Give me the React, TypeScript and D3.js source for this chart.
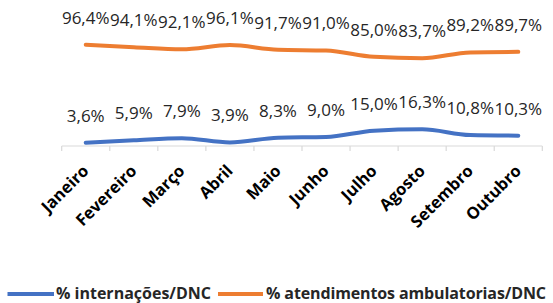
import * as d3 from "d3";

const months = [
  "Janeiro",
  "Fevereiro",
  "Março",
  "Abril",
  "Maio",
  "Junho",
  "Julho",
  "Agosto",
  "Setembro",
  "Outubro",
];
const internacoes = [3.6, 5.9, 7.9, 3.9, 8.3, 9.0, 15.0, 16.3, 10.8, 10.3];
const ambulatorios = [96.4, 94.1, 92.1, 96.1, 91.7, 91.0, 85.0, 83.7, 89.2, 89.7];

const seriesNames = ["% internações/DNC", "% atendimentos ambulatorias/DNC"];
const colors = ["#4472C4", "#ED7D31"];

const width = 553;
const height = 303;

const fmt = (v: number) => v.toFixed(1).replace(".", ",") + "%";

const App = () => {
  const xScale = d3.scaleBand<string>().domain(months).range([61.7, 542.3]);
  const yScale = d3.scaleLinear().domain([0, 100]).range([146.5, 41]);
  const cx = (m: string) => (xScale(m) as number) + xScale.bandwidth() / 2;

  const line = d3
    .line<number>()
    .x((_, i) => cx(months[i]))
    .y((d) => yScale(d))
    .curve(d3.curveMonotoneX);

  const series = [internacoes, ambulatorios];
  const ticks = [...months.map((m) => xScale(m) as number), 542.3];

  return (
    <svg
      width={width}
      height={height}
      style={{ position: "absolute", left: 0, top: 0, background: "#fff" }}
      fontFamily="'Open Sans', sans-serif"
    >
      {/* x axis */}
      <line x1={61.7} x2={542.3} y1={146} y2={146} stroke="#d9d9d9" strokeWidth={1.2} />
      {ticks.map((t, i) => (
        <line key={i} x1={t} x2={t} y1={146} y2={151} stroke="#d9d9d9" strokeWidth={1.2} />
      ))}
      {months.map((m) => (
        <text
          key={m}
          transform={`translate(${cx(m) + 4},172) rotate(-45)`}
          textAnchor="end"
          fontSize={16.5}
          fontWeight="bold"
          fill="#000"
        >
          {m}
        </text>
      ))}

      {series.map((s, k) => (
        <g key={k}>
          <path
            d={line(s) ?? ""}
            fill="none"
            stroke={colors[k]}
            strokeWidth={4}
            strokeLinecap="round"
            strokeLinejoin="round"
          />
          {s.map((v, i) => (
            <text
              key={i}
              x={cx(months[i])}
              y={yScale(v) - 21}
              textAnchor="middle"
              fontSize={17}
              fill="#262626"
            >
              {fmt(v)}
            </text>
          ))}
        </g>
      ))}

      {/* legend */}
      <line x1={7.5} x2={54} y1={294} y2={294} stroke={colors[0]} strokeWidth={4} />
      <text x={56} y={299} fontSize={16} fontWeight="bold" fill="#262626">
        {seriesNames[0]}
      </text>
      <line x1={218} x2={263} y1={294} y2={294} stroke={colors[1]} strokeWidth={4} />
      <text
        x={266}
        y={299}
        fontSize={16}
        fontWeight="bold"
        fill="#262626"
        textLength={280}
        lengthAdjust="spacing"
      >
        {seriesNames[1]}
      </text>
    </svg>
  );
};

export default App;
